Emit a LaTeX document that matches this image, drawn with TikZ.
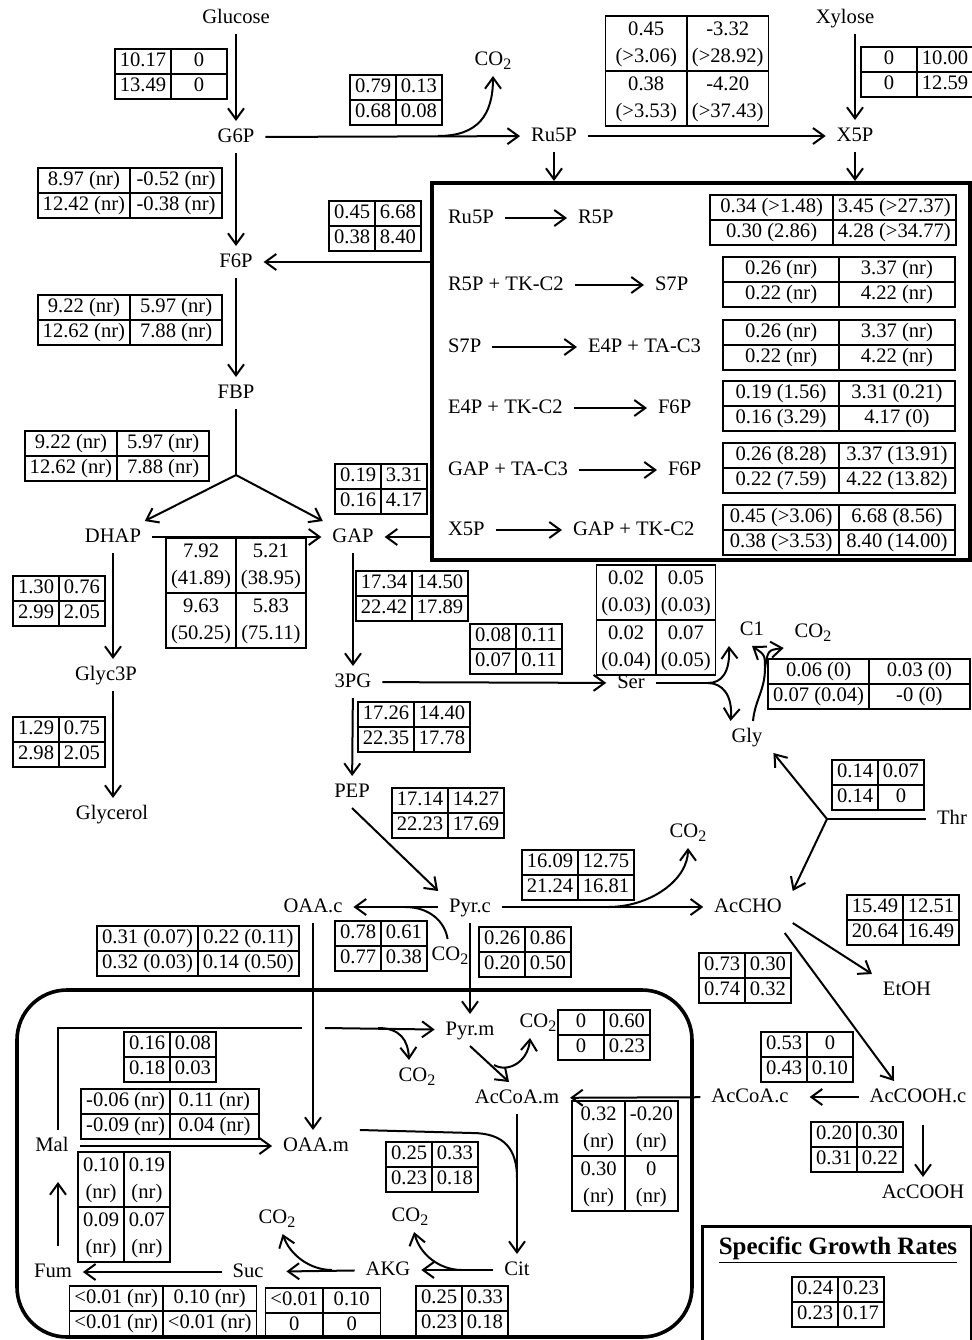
\documentclass[tikz,border=0pt]{standalone}
\usepackage{fontspec}
\setmainfont{Liberation Serif}
\usepackage{array}
\usepackage{tikz}
\usetikzlibrary{arrows.meta}

\setlength{\arrayrulewidth}{0.9pt}
\setlength{\tabcolsep}{2pt}
\renewcommand{\arraystretch}{0.95}
\newlength{\tabw}
\newlength{\tabwtmp}
\newcommand{\mxw}[1]{\settowidth{\tabwtmp}{#1}\ifdim\tabwtmp>\tabw\setlength{\tabw}{\tabwtmp}\fi}
\newcommand{\ftab}[5][0pt]{\setlength{\tabw}{#1}\mxw{#2}\mxw{#3}\mxw{#4}\mxw{#5}%
  \begin{tabular}{|w{c}{\tabw}|w{c}{\tabw}|}\hline #2 & #3\\\hline #4 & #5\\\hline\end{tabular}}
\newcommand{\twol}[2]{{\renewcommand{\arraystretch}{1.08}\begin{tabular}{@{}c@{}}#1\\#2\end{tabular}}}
\newcommand{\cotwo}{CO\raisebox{-0.45ex}{\footnotesize 2}}

\begin{document}
\begin{tikzpicture}[x=0.5pt, y=-0.5pt, line width=1pt,
	>={Straight Barb[length=5.5pt,width=8pt]},
	font=\fontsize{10.3}{12.4}\selectfont,
	met/.style={inner xsep=5pt, inner ysep=3pt, text height=7pt, text depth=2pt},
	tab/.style={inner sep=0pt},
	cmp/.style={draw, line width=2pt, inner sep=0pt}]
	\useasboundingbox (0,0) rectangle (972,1340);

	\node[met] (glc) at (236,18) {Glucose};
	\node[met] (g6p) at (236,137) {G6P};
	\node[met] (f6p) at (236,262) {F6P};
	\node[met] (fbp) at (236,393) {FBP};
	\node[met] (dhap) at (113,537) {DHAP};
	\node[met] (gap) at (353,537) {GAP};
	\node[met] (g3p) at (106,675) {Glyc3P};
	\node[met] (glyl) at (112,814) {Glycerol};
	\node[met] (pg3) at (353,682) {3PG};
	\node[met] (pep) at (352,792) {PEP};
	\node[met] (pyrc) at (470,907) {Pyr.c};
	\node[met] (oaac) at (313,907) {OAA.c};
	\node[met] (co2c) at (450,955) {\cotwo};
	\node[met] (acho) at (748,907) {AcCHO};
	\node[met] (co2a) at (688,832) {\cotwo};
	\node[met] (etoh) at (907,990) {EtOH};
	\node[met] (acetc) at (918,1097) {AcCOOH.c};
	\node[met] (acet) at (923,1193) {AcCOOH};
	\node[met] (accoac) at (750,1097) {AcCoA.c};
	\node[met] (ser) at (631,683) {Ser};
	\node[met] (c1) at (752,630) {C1};
	\node[met] (co2g) at (813,632) {\cotwo};
	\node[met] (gly) at (747,737) {Gly};
	\node[met] (thr) at (952,819) {Thr};
	\node[met] (ru5p) at (554,136) {Ru5P};
	\node[met] (x5p) at (855,136) {X5P};
	\node[met] (xyl) at (845,18) {Xylose};
	\node[met] (co2p) at (493,60) {\cotwo};

	\node[met] (pyrm) at (470,1030) {Pyr.m};
	\node[met] (co2m1) at (417,1076) {\cotwo};
	\node[met] (co2m2) at (538,1022) {\cotwo};
	\node[met] (accoam) at (517,1098) {AcCoA.m};
	\node[met] (oaam) at (316,1146) {OAA.m};
	\node[met] (mal) at (52,1146) {Mal};
	\node[met] (fum) at (53,1272) {Fum};
	\node[met] (suc) at (248,1272) {Suc};
	\node[met] (akg) at (388,1270) {AKG};
	\node[met] (cit) at (517,1270) {Cit};
	\node[met] (co2s) at (277,1218) {\cotwo};
	\node[met] (co2k) at (410,1216) {\cotwo};

	\node[cmp, minimum width=269pt, minimum height=188.5pt] (ppp) at (701,371.5) {};
	\node[met, anchor=west] (r1a) at (437,218) {Ru5P};
	\node[met, anchor=west] (r1b) at (567,218) {R5P};
	\node[met, anchor=west] (r2a) at (437,285) {R5P + TK-C2};
	\node[met, anchor=west] (r2b) at (644,285) {S7P};
	\node[met, anchor=west] (r3a) at (437,347) {S7P};
	\node[met, anchor=west] (r3b) at (577,347) {E4P + TA-C3};
	\node[met, anchor=west] (r4a) at (437,408) {E4P + TK-C2};
	\node[met, anchor=west] (r4b) at (647,408) {F6P};
	\node[met, anchor=west] (r5a) at (437,470) {GAP + TA-C3};
	\node[met, anchor=west] (r5b) at (657,470) {F6P};
	\node[met, anchor=west] (r6a) at (437,530) {X5P};
	\node[met, anchor=west] (r6b) at (562,530) {GAP + TK-C2};
	\draw[->] (r1a) -- (r1b);
	\draw[->] (r2a) -- (r2b);
	\draw[->] (r3a) -- (r3b);
	\draw[->] (r4a) -- (r4b);
	\draw[->] (r5a) -- (r5b);
	\draw[->] (r6a) -- (r6b);

	\node[tab] (tr1) at (833,220) {\ftab{0.34 (>1.48)}{3.45 (>27.37)}{0.30 (2.86)}{4.28 (>34.77)}};
	\node[tab] (tr2) at (839,282) {\ftab[53pt]{0.26 (nr)}{3.37 (nr)}{0.22 (nr)}{4.22 (nr)}};
	\node[tab] (tr3) at (839,345) {\ftab[53pt]{0.26 (nr)}{3.37 (nr)}{0.22 (nr)}{4.22 (nr)}};
	\node[tab] (tr4) at (839,406) {\ftab[53pt]{0.19 (1.56)}{3.31 (0.21)}{0.16 (3.29)}{4.17 (0)}};
	\node[tab] (tr5) at (839,468) {\ftab[53pt]{0.26 (8.28)}{3.37 (13.91)}{0.22 (7.59)}{4.22 (13.82)}};
	\node[tab] (tr6) at (839,530) {\ftab[53pt]{0.45 (>3.06)}{6.68 (8.56)}{0.38 (>3.53)}{8.40 (14.00)}};

	\node[tab] (tglc) at (171,74) {\ftab{10.17}{0}{13.49}{0}};
	\node[tab] (tox) at (396,100) {\ftab{0.79}{0.13}{0.68}{0.08}};
	\node[tab] (trpe) at (687,71) {\ftab{\twol{0.45}{(>3.06)}}{\twol{-3.32}{(>28.92)}}{\twol{0.38}{(>3.53)}}{\twol{-4.20}{(>37.43)}}};
	\node[tab] (txyl) at (917,72) {\ftab{0}{10.00}{0}{12.59}};
	\node[tab] (tpgi) at (130,193) {\ftab{8.97 (nr)}{-0.52 (nr)}{12.42 (nr)}{-0.38 (nr)}};
	\node[tab] (ttkf) at (375,226) {\ftab{0.45}{6.68}{0.38}{8.40}};
	\node[tab] (tpfk) at (130,320) {\ftab{9.22 (nr)}{5.97 (nr)}{12.62 (nr)}{7.88 (nr)}};
	\node[tab] (tald) at (117,456) {\ftab{9.22 (nr)}{5.97 (nr)}{12.62 (nr)}{7.88 (nr)}};
	\node[tab] (ttpi) at (236,593) {\ftab{\twol{7.92}{(41.89)}}{\twol{5.21}{(38.95)}}{\twol{9.63}{(50.25)}}{\twol{5.83}{(75.11)}}};
	\node[tab] (ttkg) at (381,489) {\ftab{0.19}{3.31}{0.16}{4.17}};
	\node[tab] (tgpd) at (59,601) {\ftab{1.30}{0.76}{2.99}{2.05}};
	\node[tab] (tgpp) at (59,742) {\ftab{1.29}{0.75}{2.98}{2.05}};
	\node[tab] (tgapdh) at (412,596) {\ftab{17.34}{14.50}{22.42}{17.89}};
	\node[tab] (tpgdh) at (516,649) {\ftab{0.08}{0.11}{0.07}{0.11}};
	\node[tab] (tshmt) at (656,620) {\ftab{\twol{0.02}{(0.03)}}{\twol{0.05}{(0.03)}}{\twol{0.02}{(0.04)}}{\twol{0.07}{(0.05)}}};
	\node[tab] (tgcv) at (869,684) {\ftab{0.06 (0)}{0.03 (0)}{0.07 (0.04)}{-0 (0)}};
	\node[tab] (teno) at (414,727) {\ftab{17.26}{14.40}{22.35}{17.78}};
	\node[tab] (tpyk) at (448,813) {\ftab{17.14}{14.27}{22.23}{17.69}};
	\node[tab] (tthr) at (878,785) {\ftab{0.14}{0.07}{0.14}{0}};
	\node[tab] (tpdc) at (578,875) {\ftab{16.09}{12.75}{21.24}{16.81}};
	\node[tab] (tadh) at (903,920) {\ftab{15.49}{12.51}{20.64}{16.49}};
	\node[tab] (tald2) at (745,978) {\ftab{0.73}{0.30}{0.74}{0.32}};
	\node[tab] (tpyc) at (381,946) {\ftab{0.78}{0.61}{0.77}{0.38}};
	\node[tab] (tpyrt) at (525,952) {\ftab{0.26}{0.86}{0.20}{0.50}};
	\node[tab] (toaat) at (198,951) {\ftab{0.31 (0.07)}{0.22 (0.11)}{0.32 (0.03)}{0.14 (0.50)}};
	\node[tab] (tacs) at (807,1057) {\ftab{0.53}{0}{0.43}{0.10}};
	\node[tab] (tacex) at (857,1147) {\ftab{0.20}{0.30}{0.31}{0.22}};
	\node[tab] (tpdh) at (604,1035) {\ftab{0}{0.60}{0}{0.23}};
	\node[tab] (tcot) at (625,1156) {\ftab{\twol{0.32}{(nr)}}{\twol{-0.20}{(nr)}}{\twol{0.30}{(nr)}}{\twol{0}{(nr)}}};
	\node[tab] (tme) at (170,1057) {\ftab{0.16}{0.08}{0.18}{0.03}};
	\node[tab] (tmdh) at (170,1114) {\ftab{-0.06 (nr)}{0.11 (nr)}{-0.09 (nr)}{0.04 (nr)}};
	\node[tab] (tfum) at (124,1207) {\ftab{\twol{0.10}{(nr)}}{\twol{0.19}{(nr)}}{\twol{0.09}{(nr)}}{\twol{0.07}{(nr)}}};
	\node[tab] (tcs) at (432,1167) {\ftab{0.25}{0.33}{0.23}{0.18}};
	\node[tab] (tidh) at (462,1311) {\ftab{0.25}{0.33}{0.23}{0.18}};
	\node[tab] (tkgd) at (323,1313) {\ftab{<0.01}{0.10}{0}{0}};
	\node[tab] (tsdh) at (163,1311) {\ftab{<0.01 (nr)}{0.10 (nr)}{<0.01 (nr)}{<0.01 (nr)}};

	\draw[->] (glc) -- (g6p);
	\draw[->] (g6p) -- (ru5p);
	\coordinate (oxb) at (438,136);
	\draw[->] (oxb) .. controls (478,136) and (493,115) .. (co2p);
	\draw[->] (ru5p) -- (x5p);
	\draw[->] (xyl.south -| x5p) -- (x5p);
	\draw[->] (ru5p) -- (ru5p |- ppp.north);
	\draw[->] (x5p) -- (x5p |- ppp.north);
	\draw[->] (ppp.west |- f6p) -- (f6p);
	\draw[->] (ppp.west |- gap) -- (gap);
	\draw[->] (g6p) -- (f6p);
	\draw[->] (f6p) -- (fbp);
	\coordinate (alds) at (236,475);
	\draw (fbp) -- (alds);
	\draw[->] (alds) -- (dhap);
	\draw[->] (alds) -- (gap);
	\draw[->] (dhap) -- (gap);
	\draw[->] (dhap) -- (dhap |- g3p.north);
	\draw[->] (dhap |- g3p.south) -- (dhap |- glyl.north);
	\draw[->] (gap) -- (pg3);
	\draw[->] (pg3) -- (ser);
	\draw[->] (pg3) -- (pep);
	\draw[->] (pep.south) -- (pyrc.north west);
	\draw[->] (pyrc) -- (acho);
	\coordinate (pdcb) at (608,907);
	\draw[->] (pdcb) .. controls (650,907) and (688,880) .. (co2a);
	\draw[->] (pyrc) -- (oaac);
	\coordinate (pycj) at (405,907);
	\draw (co2c) .. controls (445,922) and (430,907) .. (pycj);
	\draw[->] (pyrc) -- (pyrm);
	\draw[->] (oaac) -- (oaac |- oaam.north);

	\coordinate (thrs) at (827,819);
	\draw (thr) -- (thrs);
	\draw[->] (thrs) -- (gly.south east);
	\draw[->] (thrs) -- (acho.north east);
	\coordinate (shms) at (708,683);
	\draw (ser) -- (shms);
	\draw[->] (shms) .. controls (722,683) and (730,672) .. (c1.south west);
	\draw[->] (shms) .. controls (722,683) and (733,695) .. ([xshift=5pt]gly.north west);
	\coordinate (gcvs) at (765,668);
	\draw ([xshift=3pt]gly.north) .. controls (755,700) and (765,690) .. (gcvs);
	\draw[->] (gcvs) .. controls (765,655) .. (c1.south);
	\draw[->] (gcvs) .. controls (768,650) .. (co2g.south west);

	\draw[->] (acho.south east) -- (etoh.north west);
	\draw[->] ([xshift=-4pt,yshift=-5pt]acho.south east) -- ([xshift=-12pt]acetc.north);
	\draw[->, shorten >=5pt] (acetc) -- (accoac);
	\draw[->, shorten <=6pt] (acetc.south -| acet) -- (acet);
	\draw[->] (accoac) -- (accoam);

	\draw[line width=1.8pt, rounded corners=25pt] (17,990) rectangle (692,1337);
	\draw[->] (pyrm.south) -- ([xshift=-4pt]accoam.north);
	\coordinate (pdhb) at (494,1065);
	\draw[->] (pdhb) .. controls (508,1073) and (528,1062) .. ([xshift=-4pt]co2m2.south);
	\coordinate (me1) at (58,1028);
	\coordinate (me2) at (302,1028);
	\coordinate (me3) at (325,1028);
	\draw (mal.north -| me1) -- (me1) -- (me2);
	\draw[->] (me3) -- (pyrm);
	\coordinate (meb) at (378,1028);
	\draw[->] (meb) .. controls (400,1028) and (408,1040) .. ([xshift=-4pt]co2m1.north);
	\draw[->] (mal) -- (oaam);
	\draw[->, shorten <=5pt, shorten >=10pt] (fum.north -| me1) -- (mal.south -| me1);
	\draw[->] (suc) -- (fum);
	\draw[->, shorten >=6pt] (akg) -- (suc);
	\coordinate (kgdb) at (332,1270);
	\draw[->] (kgdb) .. controls (310,1270) and (290,1255) .. (co2s);
	\draw[->] (cit) -- (akg);
	\coordinate (idhb) at (462,1270);
	\draw[->] (idhb) .. controls (440,1270) and (420,1255) .. (co2k);
	\draw[->] (accoam) -- (accoam |- cit.north);
	\coordinate (csj) at (517,1178);
	\draw (oaam.north east) -- (472,1133) .. controls (505,1133) and (517,1150) .. (csj);

	\draw[line width=1.5pt] (702,1226) rectangle (971,1345);
	\node (mutitle) at (838,1250) {\fontsize{12.5}{15}\selectfont\bfseries\underline{Specific Growth Rates}};
	\node[tab] (tmu) at (838,1302) {\ftab{0.24}{0.23}{0.23}{0.17}};
\end{tikzpicture}
\end{document}
